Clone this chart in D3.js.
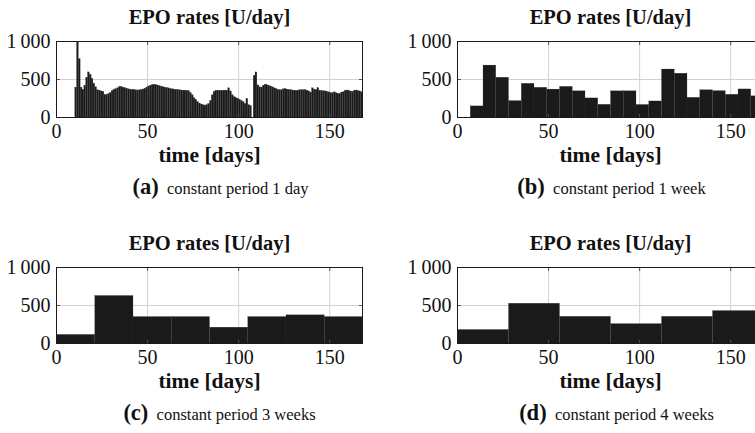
<!DOCTYPE html>
<html>
<head>
<meta charset="utf-8">
<script src="https://cdn.jsdelivr.net/npm/d3@7"></script>
<style>
  body { margin: 0; background: #fff; }
  svg text { font-family: "Liberation Serif", "Times New Roman", Times, serif; fill: #111; }
</style>
</head>
<body>
<svg id="chart" width="755" height="433"></svg>
<script>
// EPO dosing rates [U/day] for four dosing-period constraints
const dailyRates = [
  0, 0, 0, 0, 0, 0, 0, 0, 0, 0,
  400, 1000, 775, 400, 370, 425, 530, 600, 570, 515,
  450, 405, 365, 360, 350, 345, 305, 305, 315, 330,
  355, 370, 380, 390, 410, 410, 400, 395, 385, 378,
  372, 370, 368, 366, 362, 365, 370, 375, 385, 400,
  415, 425, 435, 438, 435, 428, 420, 412, 405, 400,
  395, 390, 382, 378, 375, 372, 370, 365, 362, 360,
  360, 358, 355, 330, 300, 260, 235, 210, 190, 178,
  168, 162, 170, 185, 225, 300, 345, 358, 360, 360,
  358, 360, 362, 360, 390, 350, 300, 275, 262, 255,
  240, 225, 210, 185, 250, 170, 160, 0, 555, 600,
  430, 405, 400, 425, 438, 430, 425, 415, 403, 390,
  382, 372, 368, 366, 378, 382, 375, 370, 368, 362,
  360, 358, 360, 365, 368, 366, 368, 360, 350, 335,
  390, 372, 368, 390, 360, 358, 352, 350, 340, 338,
  330, 328, 338, 325, 316, 318, 335, 340, 360, 362,
  358, 348, 345, 360, 362, 352, 350, 338
];
const weeklyRates = [0, 153, 690, 530, 223, 450, 398, 374, 410, 352, 258, 174,
                     352, 352, 172, 218, 638, 583, 266, 366, 354, 306, 376, 286];
const threeWeekRates = [120, 632, 355, 355, 215, 355, 378, 355];
const fourWeekRates = [185, 530, 358, 262, 358, 434];

const periodLengths = [1, 7, 21, 28];
const panelLetters = ["(a)", "(b)", "(c)", "(d)"];
const captions = ["constant period 1 day", "constant period 1 week",
                  "constant period 3 weeks", "constant period 4 weeks"];
const xTicks = [0, 50, 100, 150];
const yTicks = [0, 500, 1000];
const yTickLabels = ["0", "500", "1\u2009000"];
const chartTitle = "EPO rates [U/day]";
const xLabel = "time [days]";
const horizonDays = 168;

const panels = [
  { rates: dailyRates,     left: 56,  top: 41,  capShift: 11 },
  { rates: weeklyRates,    left: 457, top: 41,  capShift: 1 },
  { rates: threeWeekRates, left: 56,  top: 267, capShift: 10 },
  { rates: fourWeekRates,  left: 457, top: 267, capShift: 6 }
];

const W = 306, H = 76;
const FONT = "'Liberation Serif', 'Times New Roman', Times, serif";
const svg = d3.select("#chart");

panels.forEach((p, k) => {
  const period = periodLengths[k];
  const x = d3.scaleLinear().domain([0, horizonDays]).range([0, W]);
  const y = d3.scaleLinear().domain([0, 1000]).range([H, 0]);

  const g = svg.append("g").attr("transform", `translate(${p.left + 0.5},${p.top + 0.5})`);

  // grid
  g.selectAll("line.gx").data(xTicks.filter(t => t > 0)).join("line")
    .attr("x1", d => x(d)).attr("x2", d => x(d)).attr("y1", 0).attr("y2", H)
    .attr("stroke", "#d2d2d2").attr("stroke-width", 1);
  g.selectAll("line.gy").data(yTicks.filter(t => t > 0 && t < 1000)).join("line")
    .attr("x1", 0).attr("x2", W).attr("y1", d => y(d)).attr("y2", d => y(d))
    .attr("stroke", "#d2d2d2").attr("stroke-width", 1);

  // bars
  const bars = p.rates.map((v, i) => ({ start: i * period, end: (i + 1) * period, v }));
  g.selectAll("rect.bar").data(bars.filter(b => b.v > 0)).join("rect")
    .attr("class", "bar")
    .attr("x", d => x(d.start))
    .attr("width", d => x(d.end) - x(d.start))
    .attr("y", d => y(d.v))
    .attr("height", d => y(0) - y(d.v))
    .attr("fill", "#1a1a1a")
    .attr("stroke", "#3a3a3a")
    .attr("stroke-width", 0.2);

  // inner tick marks on all four sides
  const tl = 3.5;
  xTicks.filter(t => t > 0).forEach(t => {
    g.append("line").attr("x1", x(t)).attr("x2", x(t)).attr("y1", 0).attr("y2", tl).attr("stroke", "#555");
    g.append("line").attr("x1", x(t)).attr("x2", x(t)).attr("y1", H).attr("y2", H - tl).attr("stroke", "#555");
  });
  yTicks.filter(t => t > 0 && t < 1000).forEach(t => {
    g.append("line").attr("x1", 0).attr("x2", tl).attr("y1", y(t)).attr("y2", y(t)).attr("stroke", "#555");
    g.append("line").attr("x1", W).attr("x2", W - tl).attr("y1", y(t)).attr("y2", y(t)).attr("stroke", "#555");
  });

  // frame
  g.append("rect").attr("x", 0).attr("y", 0).attr("width", W).attr("height", H)
    .attr("fill", "none").attr("stroke", "#1a1a1a").attr("stroke-width", 1);

  // tick labels
  g.selectAll("text.xt").data(xTicks).join("text")
    .attr("x", d => x(d)).attr("y", H + 20)
    .attr("text-anchor", "middle").attr("font-family", FONT).attr("font-size", 20)
    .text(d => d);
  g.selectAll("text.yt").data(yTicks).join("text")
    .attr("x", -6).attr("y", d => y(d) + 6.5)
    .attr("text-anchor", "end").attr("font-family", FONT).attr("font-size", 20)
    .text((d, i) => yTickLabels[i]);

  // title, axis label, caption
  g.append("text").attr("x", W / 2).attr("y", -18)
    .attr("text-anchor", "middle").attr("font-family", FONT).attr("font-size", 20.5)
    .attr("font-weight", "bold").text(chartTitle);
  g.append("text").attr("x", W / 2).attr("y", H + 44)
    .attr("text-anchor", "middle").attr("font-family", FONT).attr("font-size", 21.5)
    .attr("font-weight", "bold").text(xLabel);
  const cap = g.append("text").attr("x", W / 2 + p.capShift).attr("y", H + 76)
    .attr("text-anchor", "middle").attr("font-family", FONT);
  cap.append("tspan").attr("font-size", 22.5).attr("font-weight", "bold").text(panelLetters[k]);
  cap.append("tspan").attr("font-size", 16.5).text("\u00a0\u00a0" + captions[k]);
});
</script>
</body>
</html>
